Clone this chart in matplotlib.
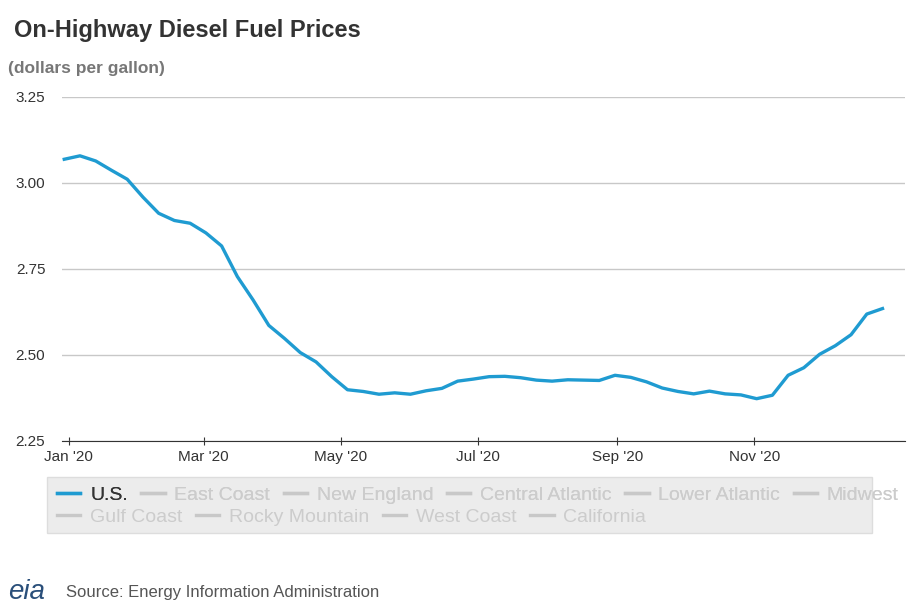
import datetime as dt
import matplotlib.pyplot as plt
import matplotlib.dates as mdates
from matplotlib.lines import Line2D
from matplotlib.patches import Rectangle

plt.rcParams['font.family'] = ['Liberation Sans', 'DejaVu Sans']

start = dt.date(2019, 12, 30)
weeks = [start + dt.timedelta(days=7 * i) for i in range(53)]
us_price = [3.069, 3.079, 3.064, 3.037, 3.011, 2.959, 2.912, 2.891, 2.883, 2.855,
            2.817, 2.728, 2.660, 2.586, 2.548, 2.507, 2.480, 2.437, 2.399, 2.394,
            2.386, 2.390, 2.386, 2.396, 2.403, 2.424, 2.430, 2.437, 2.438, 2.434,
            2.427, 2.424, 2.428, 2.427, 2.426, 2.441, 2.435, 2.422, 2.404, 2.394,
            2.387, 2.395, 2.387, 2.384, 2.373, 2.383, 2.441, 2.463, 2.502, 2.527,
            2.559, 2.619, 2.635]
legend_names = ["U.S.", "East Coast", "New England", "Central Atlantic", "Lower Atlantic",
                "Midwest", "Gulf Coast", "Rocky Mountain", "West Coast", "California"]
tick_dates = [dt.date(2020, m, 1) for m in (1, 3, 5, 7, 9, 11)]
y_ticks = [2.25, 2.50, 2.75, 3.00, 3.25]

fig = plt.figure(figsize=(9.2, 6.13), dpi=100)
ax = fig.add_axes([62 / 920, 1 - 441 / 613, (905 - 62) / 920, (441 - 97) / 613])

ax.plot(weeks, us_price, color="#1f9bd1", lw=2.4)
ax.set_ylim(2.25, 3.25)
ax.set_xlim(dt.date(2019, 12, 29), dt.date(2021, 1, 7))
ax.set_yticks(y_ticks)
ax.set_yticklabels([f"{v:.2f}" for v in y_ticks])
ax.set_xticks(tick_dates)
ax.xaxis.set_major_formatter(mdates.DateFormatter("%b '%y"))
ax.grid(axis="y", color="#c8c8c8", lw=1)
ax.set_axisbelow(True)
for s in ("top", "right", "left"):
    ax.spines[s].set_visible(False)
ax.spines["bottom"].set_color("#333333")
ax.tick_params(axis="y", length=0, labelsize=11, colors="#333333", pad=12)
ax.tick_params(axis="x", length=6, labelsize=11, colors="#333333", direction="inout")

fig.text(14 / 920, 1 - 30 / 613, "On-Highway Diesel Fuel Prices", fontsize=17,
         fontweight="bold", color="#333333", va="center")
fig.text(8 / 920, 1 - 69 / 613, "(dollars per gallon)", fontsize=12.5,
         fontweight="bold", color="#777777", va="center")

# legend box
fig.patches.append(Rectangle((47 / 920, 1 - 533 / 613), (872 - 47) / 920, 56 / 613,
                             transform=fig.transFigure, facecolor="#ececec",
                             edgecolor="#dddddd", lw=1))
handles = [Line2D([], [], color="#1f9bd1" if i == 0 else "#c8c8c8", lw=2.4)
           for i in range(len(legend_names))]
row1 = fig.legend(handles[:6], legend_names[:6], loc="center left",
                  bbox_to_anchor=(57 / 920, 1 - 495 / 613), ncol=6, frameon=False,
                  fontsize=14, handlelength=1.2, handletextpad=0.5, columnspacing=0.7,
                  borderpad=0, borderaxespad=0)
for i, t in enumerate(row1.get_texts()):
    t.set_color("#333333" if i == 0 else "#cccccc")
row2 = fig.legend(handles[6:], legend_names[6:], loc="center left",
                  bbox_to_anchor=(57 / 920, 1 - 517 / 613), ncol=4, frameon=False,
                  fontsize=14, handlelength=1.2, handletextpad=0.5, columnspacing=0.7,
                  borderpad=0, borderaxespad=0)
for t in row2.get_texts():
    t.set_color("#cccccc")
fig.add_artist(row1)

# source line with a rough eia mark
fig.text(8 / 920, 1 - 592 / 613, "eia", fontsize=20, color="#2a4f7a",
         style="italic", va="center")
fig.text(66 / 920, 1 - 593 / 613, "Source: Energy Information Administration",
         fontsize=12, color="#555555", va="center")

fig.savefig("out.png", dpi=100)
